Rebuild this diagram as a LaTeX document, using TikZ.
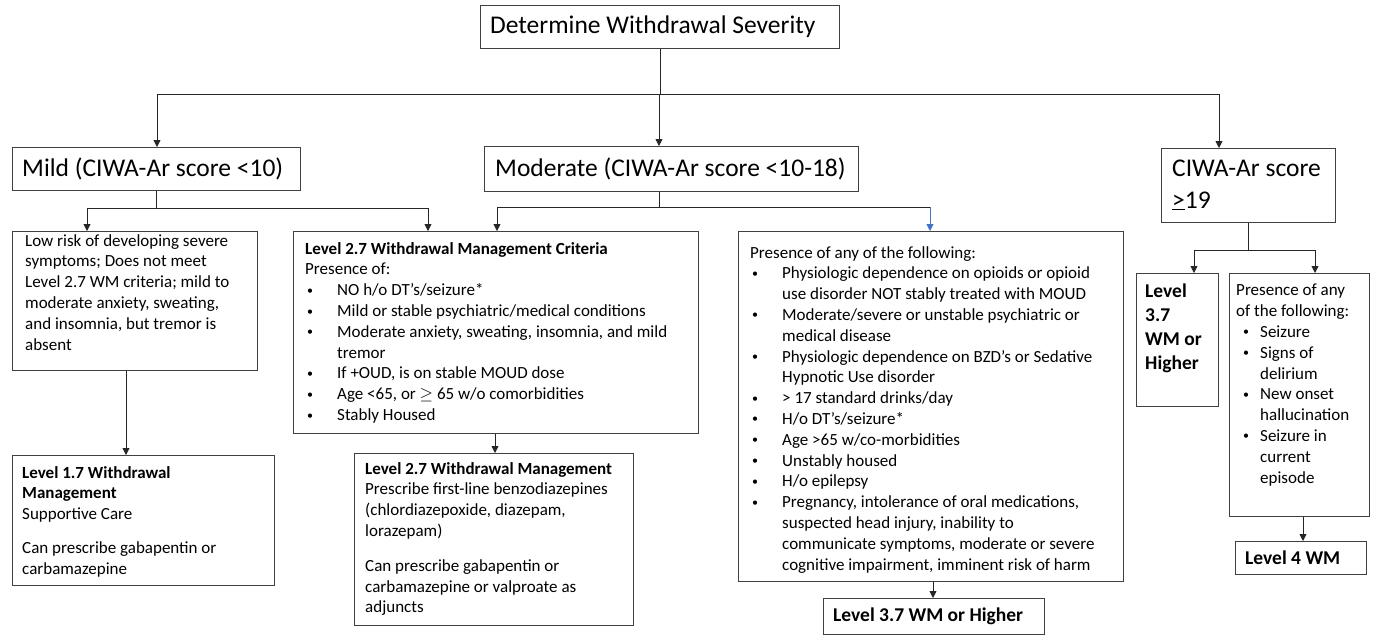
\documentclass[tikz,border=0pt]{standalone}
\usepackage{fontspec}
\setmainfont{Carlito}
\usetikzlibrary{arrows.meta}
\definecolor{boxline}{RGB}{64,64,64}
\definecolor{linkblue}{RGB}{68,114,196}

% bullet lines (wide and narrow indent)
\newcommand{\dotmark}{\raisebox{1.5pt}{\fontsize{12}{12}\selectfont\textbullet}}
\newcommand{\bul}[1]{\makebox[32pt][l]{\hspace{2pt}\dotmark}#1}
\newcommand{\cont}[1]{\hspace*{32pt}#1}
\newcommand{\sbul}[1]{\makebox[24pt][l]{\hspace{7pt}\dotmark}#1}
\newcommand{\scont}[1]{\hspace*{24pt}#1}

\tikzset{
  box/.style={draw=boxline, line width=0.9pt, anchor=north west, inner sep=0pt},
  txt/.style={anchor=north west, inner sep=0pt, align=left, font=\fontsize{17}{20.8}\selectfont},
  bigtxt/.style={anchor=west, inner sep=0pt, align=left, font=\fontsize{25.5}{31.5}\selectfont},
  lvltxt/.style={anchor=west, inner sep=0pt, align=left, font=\fontsize{19.5}{24}\selectfont\bfseries},
  link/.style={line width=0.8pt, draw=black!85},
  arr/.style={link, -{Triangle[width=7pt,length=7pt]}},
}

\begin{document}
\begin{tikzpicture}[x=1pt, y=-1pt]
    \fill[white] (0,0) rectangle (1376,640);
    \useasboundingbox (0,0) rectangle (1376,640);

    % boxes
    \node[box, minimum width=359pt, minimum height=43pt] (top) at (480,5) {};
    \node[box, minimum width=288pt, minimum height=43pt] (mild) at (12,147) {};
    \node[box, minimum width=374pt, minimum height=45pt] (moderate) at (484,146) {};
    \node[box, minimum width=174pt, minimum height=74pt] (ciwa) at (1161,148) {};
    \node[box, minimum width=245pt, minimum height=139pt] (low) at (12,231) {};
    \node[box, minimum width=405pt, minimum height=202pt] (crit) at (293,231) {};
    \node[box, minimum width=385pt, minimum height=350pt] (pres) at (738,231) {};
    \node[box, minimum width=262pt, minimum height=130pt] (lvl17) at (12,455) {};
    \node[box, minimum width=279pt, minimum height=172pt] (lvl27) at (354,453) {};
    \node[box, minimum width=221pt, minimum height=36pt] (lvl37) at (823,598) {};
    \node[box, minimum width=82pt, minimum height=133pt] (lvl37s) at (1136,273) {};
    \node[box, minimum width=140pt, minimum height=243pt] (presR) at (1229,273) {};
    \node[box, minimum width=131pt, minimum height=33pt] (lvl4) at (1235,541) {};

    % texts
    \node[bigtxt] (topT) at ([xshift=10pt]top.west) {Determine Withdrawal Severity};
    \node[bigtxt] (mildT) at ([xshift=10pt]mild.west) {Mild (CIWA-Ar score <10)};
    \node[bigtxt] (moderateT) at ([xshift=11pt]moderate.west) {Moderate (CIWA-Ar score <10-18)};
    \node[bigtxt, anchor=north west] (ciwaT) at (1172,160) {CIWA-Ar score\\ \underline{>}19};
    \node[txt] (lowT) at (25,234) {Low risk of developing severe\\ symptoms; Does not meet\\ Level 2.7 WM criteria; mild to\\ moderate anxiety, sweating,\\ and insomnia, but tremor is\\ absent};
    \node[txt] (critT) at (305,242) {\textbf{Level 2.7 Withdrawal Management Criteria}\\
        Presence of:\\
        \bul{NO h/o DT’s/seizure*}\\
        \bul{Mild or stable psychiatric/medical conditions}\\
        \bul{Moderate anxiety, sweating, insomnia, and mild}\\
        \cont{tremor}\\
        \bul{If +OUD, is on stable MOUD dose}\\
        \bul{Age <65, or $\geq$ 65 w/o comorbidities}\\
        \bul{Stably Housed}};
    \node[txt] (presT) at (750,246) {Presence of any of the following:\\
        \bul{Physiologic dependence on opioids or opioid}\\
        \cont{use disorder NOT stably treated with MOUD}\\
        \bul{Moderate/severe or unstable psychiatric or}\\
        \cont{medical disease}\\
        \bul{Physiologic dependence on BZD’s or Sedative}\\
        \cont{Hypnotic Use disorder}\\
        \bul{> 17 standard drinks/day}\\
        \bul{H/o DT’s/seizure*}\\
        \bul{Age >65 w/co-morbidities}\\
        \bul{Unstably housed}\\
        \bul{H/o epilepsy}\\
        \bul{Pregnancy, intolerance of oral medications,}\\
        \cont{suspected head injury, inability to}\\
        \cont{communicate symptoms, moderate or severe}\\
        \cont{cognitive impairment, imminent risk of harm}};
    \node[txt] (lvl17T) at (22,466) {\textbf{Level 1.7 Withdrawal}\\ \textbf{Management}\\ Supportive Care\\[13pt] Can prescribe gabapentin or\\ carbamazepine};
    \node[txt] (lvl27T) at (365,462) {\textbf{Level 2.7 Withdrawal Management}\\ Prescribe first-line benzodiazepines\\ (chlordiazepoxide, diazepam,\\ lorazepam)\\[14pt] Can prescribe gabapentin or\\ carbamazepine or valproate as\\ adjuncts};
    \node[lvltxt] (lvl37T) at ([xshift=10pt]lvl37.west) {Level 3.7 WM or Higher};
    \node[lvltxt, anchor=north west] (lvl37sT) at (1145,284) {Level\\ 3.7\\ WM or\\ Higher};
    \node[txt] (presRT) at (1236,284) {Presence of any\\ of the following:\\ \sbul{Seizure}\\ \sbul{Signs of}\\ \scont{delirium}\\ \sbul{New onset}\\ \scont{hallucination}\\ \sbul{Seizure in}\\ \scont{current}\\ \scont{episode}};
    \node[lvltxt] (lvl4T) at ([xshift=10pt]lvl4.west) {Level 4 WM};

    % top rail
    \coordinate (railL) at (157,94);
    \coordinate (railM) at (659,94);
    \coordinate (railR) at (1219,94);
    \draw[link] (top.south) -- (top.south |- railM);
    \draw[link] (railL) -- (railR);
    \draw[arr] (railL) -- (railL |- mild.north);
    \draw[arr] (railM) -- (railM |- moderate.north);
    \draw[arr] (railR) -- (railR |- ciwa.north);

    % mild branch
    \coordinate (mildL) at (87,208);
    \coordinate (mildR) at (428,208);
    \draw[link] (mild.south) -- (mild.south |- mildL);
    \draw[link] (mildL) -- (mildR);
    \draw[arr] (mildL) -- (mildL |- low.north);
    \draw[arr] (mildR) -- (mildR |- crit.north);

    % moderate branch
    \coordinate (modL) at (497,207);
    \coordinate (modM) at (659,207);
    \coordinate (modR) at (930,207);
    \draw[link] (modM |- moderate.south) -- (modM);
    \draw[link] (modL) -- (modR);
    \draw[arr] (modL) -- (modL |- crit.north);
    \draw[arr, draw=linkblue] (modR) -- (modR |- pres.north);

    % severe branch
    \coordinate (ciwaL) at (1194,250);
    \coordinate (ciwaR) at (1315,250);
    \draw[link] (ciwa.south) -- (ciwa.south |- ciwaL);
    \draw[link] (ciwaL) -- (ciwaR);
    \draw[arr] (ciwaL) -- (ciwaL |- lvl37s.north);
    \draw[arr] (ciwaR) -- (ciwaR |- presR.north);

    % down to the levels
    \coordinate (lowX) at (126,0);
    \coordinate (critX) at (495,0);
    \coordinate (presX) at (933,0);
    \coordinate (presRX) at (1303,0);
    \draw[arr] (low.south -| lowX) -- (lvl17.north -| lowX);
    \draw[arr] (crit.south -| critX) -- (lvl27.north -| critX);
    \draw[arr] (pres.south -| presX) -- (lvl37.north -| presX);
    \draw[arr] (presR.south -| presRX) -- (lvl4.north -| presRX);
\end{tikzpicture}
\end{document}
